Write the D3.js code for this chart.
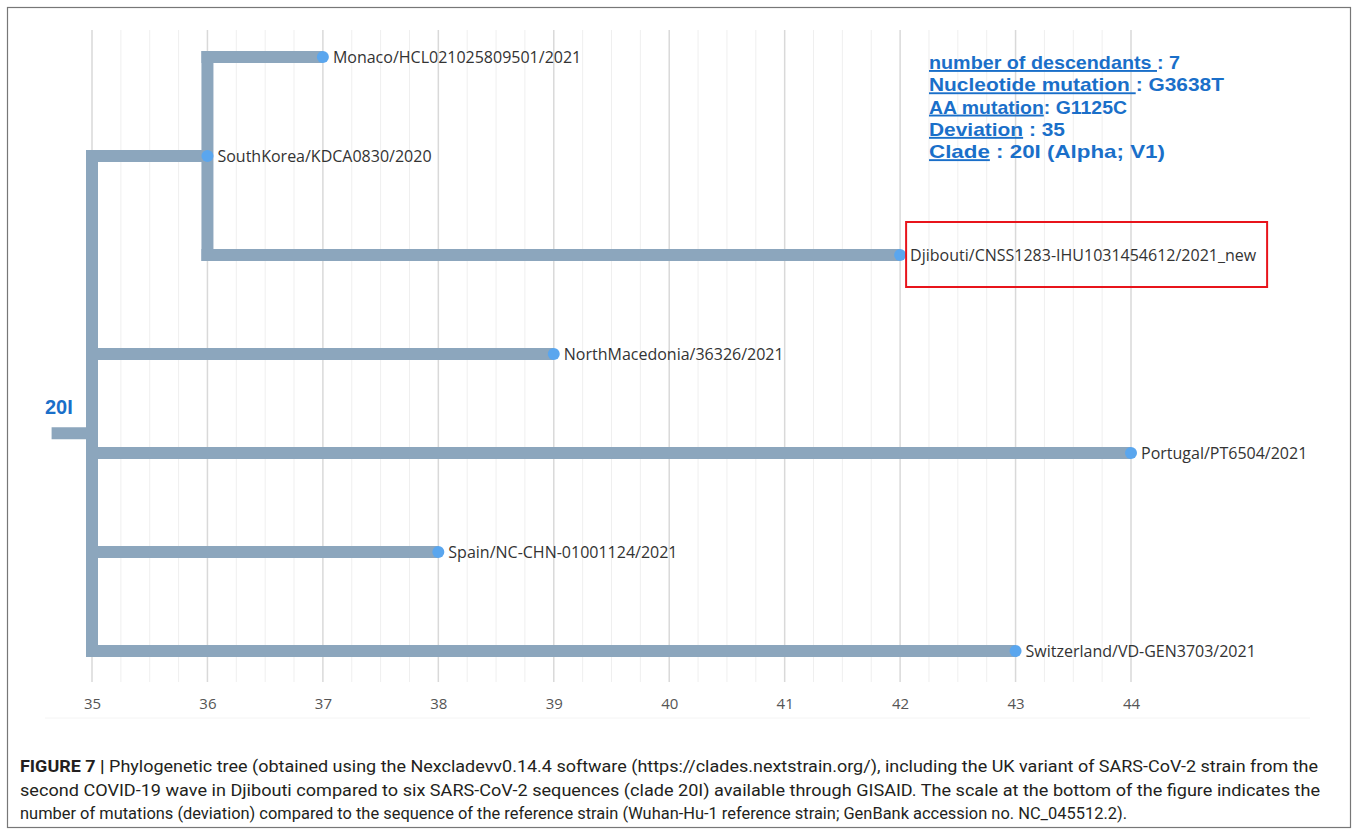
<!DOCTYPE html>
<html>
<head>
<meta charset="utf-8">
<script src="https://cdn.jsdelivr.net/npm/d3@7"></script>
<style>
  body { margin: 0; background: #fff; }
  svg { display: block; }
</style>
</head>
<body>
<svg id="tree"></svg>
<script>
// tree nodes: name, parent, divergence (mutations), row in the layout
const nodeNames = ['root', 'SouthKorea/KDCA0830/2020', 'Monaco/HCL021025809501/2021',
  'Djibouti/CNSS1283-IHU1031454612/2021_new', 'NorthMacedonia/36326/2021',
  'Portugal/PT6504/2021', 'Spain/NC-CHN-01001124/2021', 'Switzerland/VD-GEN3703/2021'];
const nodeParents = [null, 'root', 'SouthKorea/KDCA0830/2020', 'SouthKorea/KDCA0830/2020',
  'root', 'root', 'root', 'root'];
const nodeDivergence = [35, 36, 37, 42, 39, 44, 38, 43];
const nodeRows = [3.8, 1, 0, 2, 3, 4, 5, 6];
const rootStart = 34.65;

const xTicks = [35, 36, 37, 38, 39, 40, 41, 42, 43, 44];

const infoLines = [
  [['number of descendants ', true], [': 7', false]],
  [['Nucleotide mutation ', true], [': G3638T', false]],
  [['AA mutation', true], [': G1125C', false]],
  [['Deviation', true], [' : 35', false]],
  [['Clade', true], [' : 20I (Alpha; V1)', false]]
];
const infoWidths = [251, 295, 198, 136, 236];
const cladeLabel = '20I';
const highlighted = 'Djibouti/CNSS1283-IHU1031454612/2021_new';

const captionLines = [
  [['FIGURE 7 | ', true], ['Phylogenetic tree (obtained using the Nexcladevv0.14.4 software (https://clades.nextstrain.org/), including the UK variant of SARS-CoV-2 strain from the', false]],
  [['second COVID-19 wave in Djibouti compared to six SARS-CoV-2 sequences (clade 20I) available through GISAID. The scale at the bottom of the figure indicates the', false]],
  [['number of mutations (deviation) compared to the sequence of the reference strain (Wuhan-Hu-1 reference strain; GenBank accession no. NC_045512.2).', false]]
];
const captionWidths = [1298, 1300, 1107];

const W = 1358, H = 835;
const svg = d3.select('#tree').attr('width', W).attr('height', H);

// figure frame
svg.append('rect')
  .attr('x', 7.5).attr('y', 7.5)
  .attr('width', 1343).attr('height', 820)
  .attr('fill', 'none').attr('stroke', '#777').attr('stroke-width', 1.2);

const x = d3.scaleLinear().domain([35, 44]).range([92, 1131]);
const y = d3.scaleLinear().domain([0, 6]).range([57, 651]);

const nodes = nodeNames.map((n, i) => ({
  name: n, parent: nodeParents[i], div: nodeDivergence[i], row: nodeRows[i]
}));
const byName = new Map(nodes.map(d => [d.name, d]));

// grid lines every quarter mutation
const gridVals = d3.range(35, 44.01, 0.25);
svg.append('g').selectAll('line')
  .data(gridVals)
  .join('line')
  .attr('x1', d => x(d)).attr('x2', d => x(d))
  .attr('y1', 30).attr('y2', 682)
  .attr('stroke', d => Number.isInteger(d) ? '#d9d9d9' : '#efefef')
  .attr('stroke-width', d => Number.isInteger(d) ? 1.5 : 1);

// axis labels
const xAxis = d3.axisBottom(x).tickValues(xTicks).tickSize(0).tickFormat(d3.format('d'));
const axisG = svg.append('g')
  .attr('transform', 'translate(0,695)')
  .call(xAxis);
axisG.select('.domain').remove();
axisG.selectAll('text')
  .attr('fill', '#555')
  .style('font-family', '"Open Sans", sans-serif')
  .style('font-size', '15px');

svg.append('line')
  .attr('x1', 45).attr('x2', 1310).attr('y1', 718).attr('y2', 718)
  .attr('stroke', '#f4f4f4');

// branches
const branchColor = '#8ca6bd';
const branchG = svg.append('g')
  .attr('fill', 'none').attr('stroke', branchColor)
  .attr('stroke-width', 12).attr('stroke-linejoin', 'round');

const root = byName.get('root');
branchG.append('path')
  .attr('stroke-linecap', 'butt')
  .attr('d', d3.line()([[x(rootStart), y(root.row)], [x(root.div), y(root.row)]]));

// vertical connectors for internal nodes
nodes.forEach(p => {
  const kids = nodes.filter(c => c.parent === p.name);
  if (!kids.length) return;
  const ext = d3.extent(kids, c => c.row);
  branchG.append('path')
    .attr('stroke-linecap', 'butt')
    .attr('d', d3.line()([[x(p.div), y(ext[0]) - 6], [x(p.div), y(ext[1]) + 6]]));
});

// horizontal branches
nodes.filter(d => d.parent).forEach(d => {
  const p = byName.get(d.parent);
  branchG.append('path')
    .attr('d', d3.line()([[x(p.div) - 6, y(d.row)], [x(d.div), y(d.row)]]));
});

// node markers
svg.append('g').selectAll('circle')
  .data(nodes.filter(d => d.parent))
  .join('circle')
  .attr('cx', d => x(d.div))
  .attr('cy', d => y(d.row))
  .attr('r', 6)
  .attr('fill', '#5aa6ee');

// tip labels
svg.append('g').selectAll('text')
  .data(nodes.filter(d => d.parent))
  .join('text')
  .attr('x', d => x(d.div) + 10)
  .attr('y', d => y(d.row))
  .attr('dy', '0.35em')
  .attr('fill', '#333')
  .style('font-family', '"Open Sans", sans-serif')
  .style('font-size', '16px')
  .text(d => d.name);

// highlight box around the Djibouti sample
const hl = byName.get(highlighted);
svg.append('rect')
  .attr('x', x(hl.div) + 6).attr('y', y(hl.row) - 33)
  .attr('width', 361).attr('height', 65)
  .attr('fill', 'none').attr('stroke', '#e8141b').attr('stroke-width', 2);

// clade label
svg.append('text')
  .attr('x', 45).attr('y', 414)
  .attr('fill', '#1a6fc9')
  .style('font-family', '"Liberation Sans", Arial, sans-serif')
  .style('font-weight', 'bold')
  .style('font-size', '20px')
  .text(cladeLabel);

// info block
const info = svg.append('g')
  .attr('fill', '#1a6fc9')
  .style('font-family', '"Liberation Sans", Arial, sans-serif')
  .style('font-weight', 'bold')
  .style('font-size', '19px');
infoLines.forEach((parts, i) => {
  const t = info.append('text').attr('x', 929).attr('y', 69 + i * 22.3)
    .attr('textLength', infoWidths[i])
    .attr('lengthAdjust', 'spacingAndGlyphs');
  parts.forEach(([s, u]) => {
    t.append('tspan')
      .style('text-decoration', u ? 'underline' : 'none')
      .text(s);
  });
});

// caption
const cap = svg.append('g')
  .attr('fill', '#231f20')
  .style('font-family', 'Roboto, sans-serif')
  .style('font-size', '17px');
captionLines.forEach((parts, i) => {
  const t = cap.append('text')
    .attr('x', 20).attr('y', 772 + i * 23.5)
    .attr('textLength', captionWidths[i])
    .attr('lengthAdjust', 'spacingAndGlyphs');
  parts.forEach(([s, b]) => {
    t.append('tspan').style('font-weight', b ? 'bold' : 'normal').text(s);
  });
});
</script>
</body>
</html>
